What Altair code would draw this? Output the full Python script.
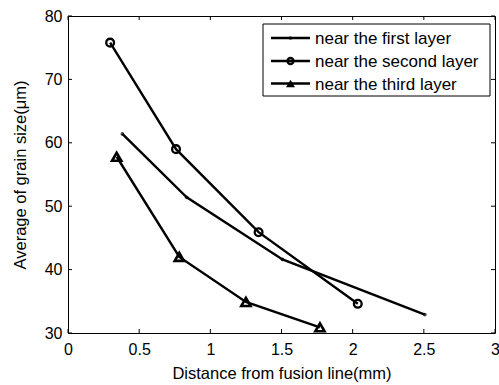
import altair as alt
import pandas as pd

# Measured average grain size vs. distance from the fusion line
series = ["near the first layer", "near the second layer", "near the third layer"]
first_x = [0.382, 0.834, 1.507, 2.507]
first_y = [61.4, 51.4, 41.6, 32.9]
second_x = [0.296, 0.759, 1.339, 2.036]
second_y = [75.8, 59.0, 45.9, 34.6]
third_x = [0.342, 0.782, 1.25, 1.77]
third_y = [57.8, 42.0, 34.9, 30.9]

x_ticks = [0, 0.5, 1, 1.5, 2, 2.5, 3]
y_ticks = [30, 40, 50, 60, 70, 80]

W, H = 427, 317
FONT = "Liberation Sans"

frames = []
for name, xs, ys in zip(series, [first_x, second_x, third_x], [first_y, second_y, third_y]):
    frames.append(pd.DataFrame({"series": name, "x": xs, "y": ys}))
df = pd.concat(frames, ignore_index=True)

x_scale = alt.Scale(domain=[0, 3], nice=False, zero=False)
y_scale = alt.Scale(domain=[30, 80], nice=False, zero=False)

x_enc = alt.X("x:Q", scale=x_scale,
              axis=alt.Axis(values=x_ticks, title="Distance from fusion line(mm)",
                            labelExpr="datum.value", labelFlush=False))
y_enc = alt.Y("y:Q", scale=y_scale,
              axis=alt.Axis(values=y_ticks, title="Average of grain size(μm)"))

base = alt.Chart(df)

lines = base.mark_line(color="black", strokeWidth=2.4).encode(
    x=x_enc, y=y_enc, detail="series:N"
)

dot_spec = dict(shape="circle", filled=True, color="black", size=14)
circle_spec = dict(shape="circle", filled=False, color="black", strokeWidth=2.3, size=60, opacity=1)
tri_spec = dict(shape="triangle-up", filled=False, color="black", strokeWidth=2.6, size=85, opacity=1)

dots = base.transform_filter(alt.datum.series == series[0]).mark_point(**dot_spec).encode(
    x="x:Q", y="y:Q")
circles = base.transform_filter(alt.datum.series == series[1]).mark_point(**circle_spec).encode(
    x="x:Q", y="y:Q")
triangles = base.transform_filter(alt.datum.series == series[2]).mark_point(**tri_spec).encode(
    x="x:Q", y="y:Q")

# inward tick marks on all four sides of the frame
xt = alt.Chart(pd.DataFrame({"x": x_ticks}))
yt = alt.Chart(pd.DataFrame({"y": y_ticks}))
tick_style = dict(color="black", strokeWidth=1)
ticks = [
    xt.mark_rule(**tick_style).encode(x="x:Q", y=alt.value(H), y2=alt.value(H - 4)),
    xt.mark_rule(**tick_style).encode(x="x:Q", y=alt.value(0), y2=alt.value(4)),
    yt.mark_rule(**tick_style).encode(y="y:Q", x=alt.value(0), x2=alt.value(4)),
    yt.mark_rule(**tick_style).encode(y="y:Q", x=alt.value(W), x2=alt.value(W - 4)),
]

# legend box
lx0, lx1, ly0, ly1 = 195, 422, 8, 80
one = pd.DataFrame({"k": [0]})
legend = [
    alt.Chart(one).mark_rect(fill="white", stroke="black", strokeWidth=1).encode(
        x=alt.value(lx0), x2=alt.value(lx1), y=alt.value(ly0), y2=alt.value(ly1)
    )
]
row_y = [22, 45, 67.5]
legend_specs = [
    dot_spec,
    dict(circle_spec, size=36),
    dict(shape="triangle-up", filled=True, color="black", strokeWidth=2, size=80, opacity=1),
]
for name, yy, spec in zip(series, row_y, legend_specs):
    row = alt.Chart(pd.DataFrame({"label": [name]}))
    legend.append(row.mark_rule(color="black", strokeWidth=2.4).encode(
        x=alt.value(203), x2=alt.value(242), y=alt.value(yy)))
    legend.append(row.mark_point(**spec).encode(x=alt.value(222.5), y=alt.value(yy)))
    legend.append(row.mark_text(align="left", baseline="middle", font=FONT,
                                fontSize=17, color="black").encode(
        x=alt.value(247), y=alt.value(yy + 1), text="label:N"))

chart = alt.layer(lines, dots, circles, triangles, *ticks, *legend).properties(
    width=W, height=H,
    autosize=alt.AutoSizeParams(type="none"),
    padding={"left": 68, "top": 16, "right": 4, "bottom": 52},
).configure_view(
    stroke="black", strokeWidth=1
).configure_axis(
    grid=False, domain=False, tickSize=0,
    labelFont=FONT, labelFontSize=16, labelColor="black",
    titleFont=FONT, titleFontSize=16.5, titleFontWeight="normal", titleColor="black",
).configure_axisX(
    labelPadding=8, titlePadding=8
).configure_axisY(
    labelPadding=6, titlePadding=16
)

chart.save("out.html", embed_options={"renderer": "svg", "actions": False})
